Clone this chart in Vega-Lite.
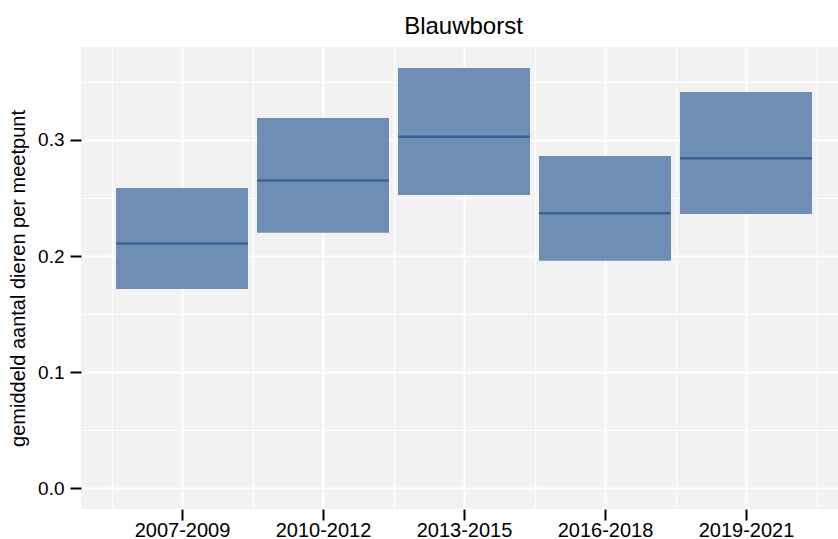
{
  "$schema": "https://vega.github.io/schema/vega-lite/v6.json",
  "width": 757,
  "height": 462,
  "autosize": {"type": "none"},
  "padding": {"left": 81, "top": 47, "right": 0, "bottom": 30},
  "background": "white",
  "title": {
    "text": "Blauwborst",
    "font": "Liberation Sans",
    "fontSize": 24,
    "fontWeight": "normal",
    "color": "#000000",
    "anchor": "middle",
    "frame": "group",
    "baseline": "alphabetic",
    "offset": 14,
    "dy": 25,
    "dx": 4
  },
  "config": {
    "view": {"fill": "#F2F2F2", "stroke": null},
    "axis": {
      "domain": false,
      "labelFont": "Liberation Sans",
      "labelFontSize": 19,
      "labelColor": "#000000",
      "titleFont": "Liberation Sans",
      "titleFontSize": 20,
      "titleFontWeight": "normal",
      "titleColor": "#000000",
      "tickColor": "#000000",
      "tickWidth": 2,
      "tickSize": 11,
      "gridColor": "#FFFFFF",
      "gridOpacity": 1
    }
  },
  "data": {
    "values": [
      {"periode": "2007-2009", "jaar": 2008, "gemiddelde": 0.2109, "onder": 0.1716, "boven": 0.2586},
      {"periode": "2010-2012", "jaar": 2011, "gemiddelde": 0.2652, "onder": 0.2201, "boven": 0.3190},
      {"periode": "2013-2015", "jaar": 2014, "gemiddelde": 0.3029, "onder": 0.2526, "boven": 0.3621},
      {"periode": "2016-2018", "jaar": 2017, "gemiddelde": 0.2368, "onder": 0.1960, "boven": 0.2862},
      {"periode": "2019-2021", "jaar": 2020, "gemiddelde": 0.2842, "onder": 0.2362, "boven": 0.3414}
    ]
  },
  "layer": [
    {
      "mark": {"type": "bar", "orient": "vertical", "width": 132, "color": "#6F8EB4", "opacity": 1},
      "encoding": {
        "x": {
          "field": "jaar",
          "type": "quantitative",
          "scale": {"domain": [2005.851, 2021.957], "nice": false, "zero": false, "padding": 0},
          "axis": {
            "orient": "bottom",
            "title": null,
            "grid": true,
            "values": [2008, 2011, 2014, 2017, 2020],
            "labelExpr": "datum.value == 2008 ? '2007-2009' : datum.value == 2011 ? '2010-2012' : datum.value == 2014 ? '2013-2015' : datum.value == 2017 ? '2016-2018' : '2019-2021'",
            "labelFontSize": 20,
            "labelPadding": 0,
            "labelFlush": false,
            "labelOverlap": false,
            "gridWidth": 2
          }
        },
        "y": {
          "field": "onder",
          "type": "quantitative",
          "scale": {"domain": [-0.01783, 0.3801], "nice": false, "zero": false, "padding": 0},
          "axis": {
            "orient": "left",
            "title": "gemiddeld aantal dieren per meetpunt",
            "grid": true,
            "values": [0, 0.1, 0.2, 0.3],
            "format": ".1f",
            "labelPadding": 6,
            "titlePadding": 9,
            "labelFlush": false,
            "gridWidth": 2
          }
        },
        "y2": {"field": "boven"}
      }
    },
    {
      "mark": {"type": "tick", "orient": "horizontal", "size": 132, "thickness": 2.5, "color": "#3A6399", "opacity": 1},
      "encoding": {
        "x": {
          "field": "jaar",
          "type": "quantitative",
          "scale": {"domain": [2005.851, 2021.957], "nice": false, "zero": false, "padding": 0},
          "axis": {
            "orient": "top",
            "title": null,
            "grid": true,
            "values": [2006.5, 2009.5, 2012.5, 2015.5, 2018.5, 2021.5],
            "labels": false,
            "ticks": false,
            "minExtent": 0,
            "maxExtent": 0,
            "gridWidth": 1.2
          }
        },
        "y": {
          "field": "gemiddelde",
          "type": "quantitative",
          "scale": {"domain": [-0.01783, 0.3801], "nice": false, "zero": false, "padding": 0},
          "axis": {
            "orient": "right",
            "title": null,
            "grid": true,
            "values": [0.05, 0.15, 0.25, 0.35],
            "labels": false,
            "ticks": false,
            "minExtent": 0,
            "maxExtent": 0,
            "gridWidth": 1.2
          }
        }
      }
    }
  ],
  "resolve": {"axis": {"x": "independent", "y": "independent"}}
}
